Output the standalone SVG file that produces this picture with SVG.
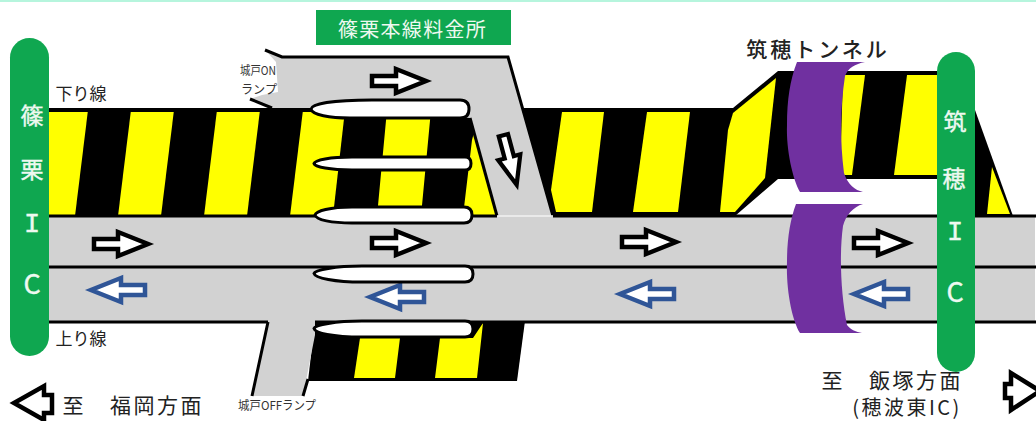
<svg xmlns="http://www.w3.org/2000/svg" width="1036" height="421" viewBox="0 0 1036 421">
<style>
text{font-family:"Noto Sans CJK JP","Noto Sans",sans-serif;text-anchor:middle;dominant-baseline:central}
.y{fill:#ffff00}.k{fill:#000}.g{fill:#d2d2d2}
.ln{fill:none;stroke:#000;stroke-width:3}
.island{fill:#fff;stroke:#000;stroke-width:3}
.pill{fill:#0fa750}
.pt{fill:#eef9f0;stroke:#eef9f0;stroke-width:.4;font-size:23px}
.lab{fill:#222;font-size:17px}
.sm{fill:#333;font-size:12px}
.dir{fill:#222;font-size:21px}
.tun{fill:#7030a0}
.ab{fill:#fff;stroke:#000;stroke-width:4.500}
.ar{fill:#fff;stroke:#2f5597;stroke-width:4.500}
</style>
<defs>
<path id="arr" d="M-27,-5H-3V-12L27,0L-3,12V5H-27Z"/>
</defs>
<rect width="1036" height="421" fill="#fff"/>
<rect width="1036" height="2" fill="#b6f5dd"/>

<g id="plaza-stripes">
<polygon class="y" points="49,110 490,110 497,216 49,216"/>
<polygon class="k" points="49,108 525,108 525,112 49,112"/>
<polygon class="k" points="88,110 131,110 118,216 75,216"/>
<polygon class="k" points="174,110 217,110 204,216 161,216"/>
<polygon class="k" points="260,110 303,110 290,216 247,216"/>
<polygon class="k" points="345,110 387,110 377,216 333,216"/>
<polygon class="k" points="431,110 480,110 472,140 463,216 421,216"/>
<polygon class="k" points="520,108 733,108 778,71 937,71 937,179 778,179 735,216 520,216"/>
<polygon class="y" points="562,112 604,112 592,212 556,212 551,190"/>
<polygon class="y" points="647,112 690,112 678,212 633,212"/>
<polygon class="y" points="733,113 776,78 765,178 735,212 720,212 728,130"/>
<polygon class="y" points="843,75 865,75 852,175 840,175"/>
<polygon class="y" points="907,75 937,75 937,175 894,175"/>
<polygon class="k" points="975,110 1013,216 975,216"/>
<polygon class="y" points="992,167 1010,214 987,214"/>
<polygon class="k" points="315,321 525,321 517,381 308,381"/>
<polygon class="y" points="360,338 400,338 395,378 354,378"/>
<polygon class="y" points="440,338 473,338 483,323 477,378 435,378"/>
</g>

<g id="connectors">
<polygon class="g" points="49,216 1035,216 1035,322 315,322 315,335 303,396 252,396 268,322 49,322"/>
<polygon class="g" points="267,52 282,57 508,57 553,216 497,216 470,118 320,108 272,108 250,99 262,95 278,92 276,62"/>
<path class="ln" d="M265,50 282,57H508L553,216"/>
<path class="ln" d="M250,99 272,108"/>
<path class="ln" d="M470,118 497,216"/>
<path class="ln" d="M49,216H497M553,216H1036"/>
<path d="M497,216H553" fill="none" stroke="#f2f2f2" stroke-width="1.5"/>
<path class="ln" d="M49,267H1036"/>
<path class="ln" d="M49,322H268M315,322H1036"/>
<path class="ln" d="M268,322 252,396M308,379 303,396"/>
<use href="#arr" class="ab" transform="translate(399,81)"/>
<use href="#arr" class="ab" transform="translate(510,160) rotate(75) scale(.95)"/>
<use href="#arr" class="ab" transform="translate(121,244)"/>
<use href="#arr" class="ab" transform="translate(399,243)"/>
<use href="#arr" class="ab" transform="translate(649,242)"/>
<use href="#arr" class="ab" transform="translate(881,243)"/>
<use href="#arr" class="ar" transform="translate(118,290) rotate(180)"/>
<use href="#arr" class="ar" transform="translate(397,297) rotate(180)"/>
<use href="#arr" class="ar" transform="translate(647,294) rotate(180)"/>
<use href="#arr" class="ar" transform="translate(881,294) rotate(180)"/>
</g>

<g id="islands">
<path class="island" d="M311,109C312,104 332,100 372,100H460Q469,100 469,109Q469,118 460,118H350C330,118 312,115 311,109Z"/>
<path class="island" d="M314,163.500C315,160 330,157 352,157H465Q471,157 471,163.500Q471,170 465,170H352C330,170 315,167 314,163.500Z"/>
<path class="island" d="M315,215C316,211 330,207 352,207H464Q472,207 472,215Q472,223 464,223H352C332,223 316,220 315,215Z"/>
<path class="island" d="M314,273.500C315,270 335,266 362,266H465Q473,266 473,274Q473,282 465,282H362C335,282 315,278 314,273.500Z"/>
<path class="island" d="M314,328.500C315,325 335,321 362,321H465Q473,321 473,329Q473,337 465,337H362C332,337 315,333 314,328.500Z"/>
</g>

<g id="tunnel">
<path class="tun" d="M797,62H865C855,64 848,68 845,76C840,110 840,140 844,173C848,185 855,190 863,192H800C793,180 786,150 787,125C787,100 790,80 797,62Z"/>
<path class="tun" d="M796,204H863C853,207 846,215 843,226C839,255 841,295 847,325C851,330 856,332 862,333H800C792,320 786,290 787,262C787,240 790,220 796,204Z"/>
<text x="818" y="48" fill="#222" font-size="21" letter-spacing="3" font-weight="500">筑穂トンネル</text>
</g>

<g id="ic-shinoguri">
<rect class="pill" x="10" y="38" width="39" height="318" rx="19.500"/>
<text class="pt" x="32" y="114">篠</text>
<text class="pt" x="32" y="168">栗</text>
<text class="pt" x="32" y="225" style="font-family:'Liberation Mono',monospace;font-size:27px">I</text>
<text class="pt" x="32" y="282" style="font-size:27px">C</text>
</g>

<g id="ic-chikuho">
<rect class="pill" x="937" y="52" width="38" height="320" rx="19"/>
<text class="pt" x="955" y="120">筑</text>
<text class="pt" x="954" y="177">穂</text>
<text class="pt" x="955" y="233" style="font-family:'Liberation Mono',monospace;font-size:27px">I</text>
<text class="pt" x="955" y="290" style="font-size:27px">C</text>
</g>

<g id="tollgate">
<rect x="316" y="10" width="195" height="35" fill="#0fa750"/>
<text x="412.500" y="28" fill="#eef9f0" font-size="20" letter-spacing="1.300">篠栗本線料金所</text>
</g>

<g id="labels">
<text class="lab" x="81" y="92">下り線</text>
<text class="lab" x="81" y="337">上り線</text>
<text class="sm" x="258" y="69" textLength="36" lengthAdjust="spacingAndGlyphs">城戸ON</text>
<text class="sm" x="259" y="88" textLength="36" lengthAdjust="spacingAndGlyphs">ランプ</text>
<text class="sm" x="277" y="404" textLength="78" lengthAdjust="spacingAndGlyphs">城戸OFFランプ</text>
<text class="dir" x="73" y="404">至</text>
<text class="dir" x="157" y="404" letter-spacing="2.500">福岡方面</text>
<text class="dir" x="832" y="379">至</text>
<text class="dir" x="916" y="379" letter-spacing="2.500">飯塚方面</text>
<text x="907" y="406" fill="#222" font-size="20" letter-spacing="2.500">(穂波東IC)</text>
</g>

<g id="direction-arrows">
<path class="ab" d="M14,403 44,386V395H52V413H44V420Z"/>
<path class="ab" d="M1005,384H1011V373L1040,391L1011,410V398H1005Z"/>
</g>
</svg>
